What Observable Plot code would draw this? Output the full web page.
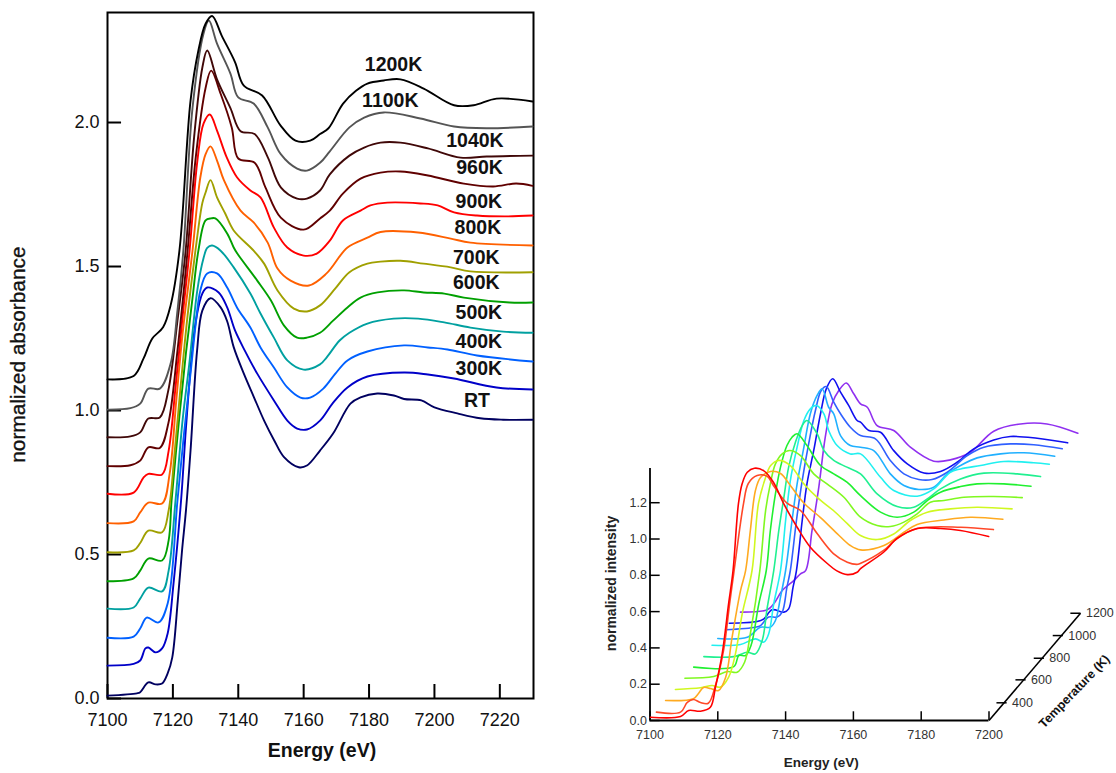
<!DOCTYPE html>
<html>
<head>
<meta charset="utf-8">
<script src="https://cdn.jsdelivr.net/npm/d3@7"></script>
<script src="https://cdn.jsdelivr.net/npm/@observablehq/plot@0.6"></script>
<style>
html,body{margin:0;padding:0;background:#fff}
#wrap{position:relative;width:1116px;height:773px;overflow:hidden}
#wrap svg{position:absolute;top:0;max-width:none}
</style>
</head>
<body>
<div id="wrap"></div>
<script>
// ---------- Left panel: [energy eV, normalized absorbance] ----------
const s1200K=[[7100,1.108],[7108,1.12],[7111,1.18],[7113.7,1.25],[7117,1.289],[7119.3,1.365],[7122,1.555],[7125.4,2.076],[7127.8,2.25],[7130,2.343],[7132,2.37],[7135,2.30],[7139,2.21],[7141.7,2.128],[7147.3,2.094],[7152.9,1.99],[7157.5,1.937],[7162,1.937],[7165,1.96],[7167.6,1.98],[7172,2.065],[7176,2.11],[7179.5,2.135],[7184.5,2.146],[7189.6,2.15],[7196.7,2.118],[7206,2.06],[7212,2.06],[7219,2.083],[7230,2.073]];
const s1100K=[[7100,1.003],[7107,1.008],[7110,1.024],[7112.5,1.076],[7116,1.076],[7119.3,1.163],[7121.4,1.347],[7123.2,1.555],[7126,2.05],[7129.4,2.31],[7131,2.354],[7133.5,2.274],[7137.6,2.17],[7140,2.087],[7144.7,2.066],[7149,1.983],[7153,1.89],[7158,1.84],[7161,1.833],[7165,1.86],[7168,1.90],[7174,1.983],[7178.5,2.017],[7184.5,2.035],[7195.7,2.014],[7206,1.986],[7216,1.98],[7230,1.986]];
const s1040K=[[7100,.907],[7107,.91],[7110,.924],[7112.5,.972],[7116,.976],[7118.6,1.07],[7121.4,1.312],[7123.9,1.555],[7126.5,1.95],[7129,2.19],[7130.5,2.25],[7133.5,2.15],[7137.6,2.05],[7140.7,1.97],[7145,1.96],[7149,1.88],[7153,1.775],[7158,1.736],[7161,1.736],[7165,1.764],[7168,1.82],[7174,1.885],[7178.5,1.913],[7183.5,1.93],[7189.6,1.93],[7198,1.91],[7208,1.878],[7216,1.882],[7230,1.885]];
const s960K=[[7100,.807],[7107,.81],[7110,.826],[7112.5,.872],[7116,.87],[7118.6,.955],[7121.4,1.208],[7124.5,1.555],[7127,1.88],[7130,2.12],[7131.7,2.18],[7134.6,2.10],[7138,1.983],[7140,1.875],[7145,1.86],[7148.3,1.775],[7153,1.67],[7160,1.628],[7165,1.667],[7168,1.694],[7172,1.753],[7177.4,1.805],[7183.5,1.826],[7189.6,1.83],[7198,1.816],[7209,1.788],[7218,1.778],[7225,1.788],[7230,1.78]];
const s900K=[[7100,.711],[7108,.715],[7111,.767],[7112.5,.78],[7116.7,.778],[7118.7,.86],[7120.8,1.08],[7123,1.33],[7125.1,1.555],[7127.5,1.868],[7129.4,1.997],[7131.3,2.028],[7133.5,1.972],[7136.5,1.878],[7139.6,1.81],[7143.7,1.764],[7146.8,1.74],[7150.9,1.635],[7155,1.566],[7160,1.538],[7164,1.545],[7168,1.59],[7172,1.66],[7177.4,1.694],[7180.4,1.712],[7185.6,1.722],[7195.7,1.719],[7201,1.712],[7206,1.688],[7213,1.677],[7222,1.674],[7230,1.677]];
const s800K=[[7100,.609],[7108,.615],[7110,.646],[7112.5,.68],[7116.7,.677],[7119,.78],[7121,1.03],[7123,1.27],[7126,1.555],[7128.4,1.81],[7130,1.89],[7131.5,1.917],[7133.5,1.868],[7135.6,1.8],[7140.7,1.694],[7144.7,1.653],[7149,1.583],[7152,1.493],[7156,1.451],[7161.6,1.434],[7167,1.476],[7173.4,1.566],[7179.5,1.60],[7183.5,1.62],[7195,1.618],[7205,1.597],[7211,1.583],[7230,1.573]];
const s700K=[[7100,.508],[7108,.514],[7110,.54],[7112.5,.583],[7116.7,.577],[7118.7,.653],[7120.5,.85],[7122.5,1.1],[7124.5,1.33],[7126.9,1.555],[7129,1.72],[7130,1.757],[7131.5,1.80],[7133.5,1.74],[7136,1.684],[7138.6,1.625],[7144.7,1.555],[7147.9,1.51],[7152,1.417],[7157,1.354],[7161,1.344],[7165,1.365],[7169.7,1.424],[7174,1.48],[7179.5,1.51],[7183.5,1.517],[7189.6,1.52],[7196.7,1.51],[7205,1.497],[7211,1.483],[7230,1.48]];
const s600K=[[7100,.407],[7108,.417],[7110,.444],[7112.5,.486],[7116.7,.479],[7118.7,.549],[7119.6,.6875],[7122,.98],[7124,1.2],[7126,1.39],[7127.8,1.555],[7130,1.66],[7131.7,1.667],[7133,1.667],[7136.6,1.615],[7138.6,1.566],[7139.7,1.545],[7145.8,1.451],[7150,1.382],[7154,1.295],[7158,1.253],[7161,1.253],[7165,1.27],[7169,1.312],[7173.4,1.358],[7177.4,1.392],[7182.6,1.41],[7190.7,1.417],[7196.7,1.41],[7203,1.406],[7209,1.392],[7223,1.375],[7230,1.375]];
const s500K=[[7100,.312],[7108,.316],[7110,.347],[7112.5,.385],[7116.7,.372],[7118.7,.444],[7120.8,.6875],[7123,.97],[7125,1.16],[7127.5,1.42],[7129.4,1.53],[7130.5,1.565],[7132,1.573],[7134.6,1.555],[7138.6,1.497],[7143.7,1.406],[7146.8,1.337],[7150.9,1.253],[7155,1.174],[7160,1.142],[7165,1.16],[7167,1.184],[7171,1.243],[7174,1.27],[7179.5,1.302],[7187.5,1.319],[7195,1.319],[7203,1.306],[7211,1.288],[7221,1.274],[7230,1.27]];
const s400K=[[7100,.211],[7108,.215],[7110,.243],[7112,.281],[7115.6,.264],[7118.4,.33],[7121.4,.6875],[7123.5,.93],[7125.5,1.14],[7127,1.302],[7128.4,1.417],[7130.5,1.476],[7133.5,1.476],[7136.6,1.427],[7139.6,1.358],[7143.7,1.288],[7146.8,1.219],[7150.9,1.149],[7155,1.08],[7159,1.045],[7162,1.045],[7166,1.076],[7169.7,1.128],[7173.4,1.174],[7179.5,1.205],[7190.7,1.226],[7198,1.219],[7204,1.212],[7213,1.191],[7230,1.17]];
const s300K=[[7100,.114],[7108,.12],[7110,.132],[7111.6,.174],[7112.5,.177],[7114.7,.16],[7116.7,.174],[7118.4,.226],[7120.2,.4],[7122.5,.6875],[7124,.94],[7125.9,1.208],[7127.2,1.323],[7129,1.406],[7130.5,1.427],[7134,1.41],[7136.6,1.358],[7139,1.278],[7142,1.208],[7145.8,1.128],[7150.9,1.035],[7155,.965],[7158,.9375],[7161,.934],[7165,.965],[7168.8,1.024],[7173.4,1.08],[7179.5,1.118],[7190.7,1.132],[7198,1.125],[7206,1.111],[7219,1.08],[7230,1.073]];
const sRT=[[7100,.01],[7109,.018],[7110,.022],[7112.5,.056],[7114.7,.049],[7116.7,.052],[7118.4,.087],[7119.8,.142],[7121.5,.34],[7122.8,.514],[7124,.653],[7125.4,.861],[7127.4,1.208],[7129,1.347],[7131.5,1.39],[7134.6,1.358],[7136.6,1.31],[7138.6,1.22],[7141.7,1.128],[7144.8,1.046],[7147.9,.965],[7151,.896],[7154,.838],[7158.5,.803],[7161,.809],[7165,.861],[7169,.92],[7174.3,1.024],[7177.4,1.046],[7182.5,1.059],[7187.6,1.052],[7190.7,1.04],[7196,1.035],[7200,1.011],[7207,.99],[7214,.973],[7221,.968],[7230,.968]];

const leftSeries=[sRT,s300K,s400K,s500K,s600K,s700K,s800K,s900K,s960K,s1040K,s1100K,s1200K];
const leftColors=["#000060","#0000c8","#0060ff","#00a0a0","#00a000","#a0a000","#ff6000","#ff0000","#600000","#400808","#555555","#000000"];
const leftLabels=["RT","300K","400K","500K","600K","700K","800K","900K","960K","1040K","1100K","1200K"];
const leftLabelE=[7213,7213.6,7213.6,7213.6,7212.8,7212.8,7213.3,7213.6,7213.8,7212.4,7186.5,7187.5];
const leftLabelV=[1.035,1.146,1.24,1.34,1.444,1.531,1.635,1.726,1.844,1.9375,2.076,2.201];
const leftXTicks=[7100,7120,7140,7160,7180,7200,7220];
const leftYTicks=[0,.5,1,1.5,2];

// ---------- Right panel: [projected energy eV, intensity] ----------
const c1=[[7100.1,.018],[7109,.022],[7111.4,.055],[7114.9,.051],[7117.8,.073],[7119.3,.183],[7121.3,.369],[7123.2,.645],[7124.5,.826],[7126.1,1.196],[7127.2,1.306],[7128.7,1.368],[7130.8,1.39],[7133.5,1.377],[7136.4,1.313],[7139.4,1.196],[7143.4,1.065],[7147.3,.955],[7152.3,.865],[7155,.826],[7158.2,.804],[7161.1,.817],[7162.1,.837],[7168.9,.927],[7172.9,1.003],[7178.8,1.058],[7185.7,1.058],[7191.6,1.047],[7199.9,1.014]];
const c2=[[7101.9,.046],[7109,.046],[7111,.10],[7112.8,.116],[7114.9,.099],[7117.2,.095],[7119.3,.193],[7121.7,.386],[7123.5,.645],[7124.7,.81],[7127.6,1.196],[7129,1.306],[7131.6,1.35],[7134.6,1.345],[7136.4,1.295],[7140.5,1.196],[7144.4,1.157],[7149.3,1.03],[7154.1,.92],[7158.2,.872],[7161,.86],[7162,.865],[7168.9,.937],[7172.9,1.003],[7178.8,1.058],[7191.6,1.065],[7201.3,1.052]];
const c3=[[7104.6,.11],[7112.8,.12],[7114.3,.149],[7115.8,.182],[7117.8,.176],[7120.2,.165],[7122.3,.237],[7124.2,.457],[7126.7,.716],[7128.2,.826],[7129.6,1.047],[7131.1,1.267],[7132.6,1.339],[7135.5,1.372],[7138.5,1.361],[7141.4,1.295],[7145.3,1.2],[7150.3,1.118],[7155.2,1.03],[7159.1,.964],[7162.1,.94],[7169,.964],[7174.9,1.037],[7178.8,1.08],[7186.7,1.105],[7194.5,1.12],[7204.1,1.109]];
const c4=[[7107.5,.171],[7114.9,.18],[7118.3,.193],[7120.8,.184],[7123.2,.239],[7125.2,.367],[7127.2,.588],[7130.1,.8265],[7132,1.196],[7134.1,1.339],[7135.6,1.405],[7137.9,1.433],[7141.4,1.405],[7145.3,1.306],[7149.3,1.229],[7154.1,1.157],[7158.2,1.085],[7162.1,1.019],[7167,.997],[7171.9,1.028],[7176.8,1.102],[7181.8,1.148],[7188.6,1.166],[7196.5,1.175],[7206.8,1.166]];
const c5=[[7110.3,.233],[7118.8,.242],[7122.8,.27],[7125.7,.266],[7127.9,.321],[7129.6,.478],[7132.4,.8265],[7134.1,1.157],[7135.5,1.304],[7137,1.414],[7139,1.469],[7141.2,1.488],[7144.4,1.46],[7148.3,1.359],[7152.2,1.304],[7157.2,1.23],[7162.1,1.12],[7167,1.074],[7170.9,1.069],[7174.9,1.093],[7178.8,1.138],[7182.7,1.203],[7186.7,1.212],[7192.6,1.23],[7201.4,1.234],[7209.8,1.228]];
const c6=[[7112.9,.294],[7124.7,.297],[7126.2,.358],[7128.2,.358],[7129.8,.413],[7132.1,.643],[7134.3,.8265],[7135.5,1.047],[7137,1.249],[7138.5,1.396],[7140.4,1.515],[7141.9,1.561],[7143.4,1.58],[7146.3,1.515],[7150.3,1.405],[7154.2,1.359],[7158.1,1.313],[7162.1,1.239],[7168,1.148],[7172.9,1.12],[7177.8,1.148],[7181.8,1.212],[7185.7,1.258],[7191.6,1.289],[7196.5,1.304],[7204.4,1.304],[7212.4,1.291]];
const c7=[[7115.9,.352],[7124.7,.352],[7128.7,.376],[7131.1,.367],[7133.1,.441],[7134.6,.624],[7136.5,.826],[7138,1.047],[7139.5,1.23],[7140.9,1.396],[7142.9,1.533],[7144.9,1.625],[7146.3,1.653],[7149.3,1.58],[7151.3,1.488],[7154.2,1.433],[7158.1,1.396],[7162.1,1.359],[7167,1.249],[7172.9,1.179],[7177.8,1.175],[7181.8,1.221],[7185.7,1.276],[7191.6,1.331],[7198.5,1.363],[7208.3,1.359],[7215.2,1.344]];
const c8=[[7118.3,.415],[7126.7,.419],[7131.1,.45],[7133.6,.432],[7135,.477],[7136.5,.643],[7138.5,.8265],[7140,1.102],[7141.4,1.322],[7143.4,1.506],[7145.4,1.653],[7147.3,1.717],[7149.1,1.736],[7151.3,1.69],[7152.7,1.598],[7155.2,1.515],[7159.1,1.469],[7162.1,1.469],[7168,1.34],[7171.9,1.267],[7178.8,1.236],[7183.7,1.276],[7188.6,1.368],[7191.6,1.386],[7197.5,1.405],[7204.4,1.427],[7213.2,1.42],[7217.8,1.412]];
const c9=[[7120,.452],[7128.7,.459],[7132.6,.514],[7135.5,.514],[7137,.551],[7138.5,.68],[7140,.8265],[7141.9,1.102],[7143.4,1.304],[7145.4,1.506],[7147.3,1.69],[7149.3,1.791],[7150.8,1.827],[7152.7,1.726],[7154.2,1.69],[7156.2,1.57],[7159.1,1.515],[7162.1,1.506],[7166,1.487],[7170.9,1.359],[7174.9,1.295],[7179.3,1.273],[7183.7,1.285],[7187.7,1.359],[7191.6,1.405],[7196.5,1.447],[7203.4,1.469],[7210.3,1.475],[7219.4,1.456]];
const c10=[[7122.3,.5],[7131.1,.514],[7132.6,.523],[7135,.57],[7137.5,.57],[7139,.597],[7140.4,.735],[7141.4,.8265],[7143.2,1.102],[7144.9,1.322],[7146.8,1.524],[7148.8,1.708],[7150.5,1.818],[7152,1.84],[7154.2,1.754],[7156.2,1.69],[7159.1,1.616],[7162.1,1.57],[7166.5,1.552],[7170.9,1.432],[7174.9,1.359],[7179.3,1.328],[7183.2,1.328],[7187.7,1.368],[7193.6,1.46],[7198.5,1.506],[7206.3,1.524],[7213.2,1.519],[7221.6,1.497]];
const c11=[[7123.4,.536],[7131.6,.545],[7133.6,.56],[7136,.61],[7139.5,.597],[7140.9,.615],[7142.2,.735],[7143.2,.8265],[7144.9,1.102],[7146.3,1.304],[7148.3,1.488],[7150.3,1.69],[7152,1.827],[7153.9,1.883],[7156.2,1.809],[7158.6,1.736],[7161.1,1.653],[7162.1,1.644],[7164.6,1.598],[7168,1.588],[7171.9,1.487],[7175.9,1.414],[7180.8,1.364],[7185.7,1.372],[7190.6,1.423],[7195.5,1.497],[7201.4,1.546],[7206.3,1.565],[7214.2,1.555],[7223.2,1.53]];
const c12=[[7126.7,.597],[7134.6,.61],[7136.5,.643],[7139,.716],[7142.4,.771],[7144.4,.808],[7145.9,.826],[7147.8,1.047],[7149.8,1.286],[7151.7,1.561],[7153.7,1.745],[7155.7,1.818],[7157.9,1.86],[7160.1,1.80],[7162.1,1.745],[7164.1,1.726],[7167,1.625],[7171.9,1.598],[7176.8,1.506],[7183.7,1.429],[7188.6,1.436],[7194.5,1.478],[7201.4,1.594],[7209.3,1.634],[7217.1,1.634],[7226.2,1.583]];

const rightSeries=[c12,c11,c10,c9,c8,c7,c6,c5,c4,c3,c2,c1];
const rightColors=["#9030f0","#1010f0","#3060ff","#20b0ff","#20f0f0","#20f090","#20f030","#80f820","#d0f820","#ffaa20","#ff4828","#ff0000"];
const rightXTicks=[7100,7120,7140,7160,7180,7200];
const rightYTicks=[0,.2,.4,.6,.8,1,1.2];
const tempTicks=[400,600,800,1000,1200];
const tempE=[7205.2,7210.8,7216.2,7221.8,7227];
const tempI=[.0975,.224,.343,.468,.591];

const FONT="'Liberation Sans', Arial, sans-serif";
const wrap=document.getElementById("wrap");

const left=Plot.plot({
  width:560,height:773,
  marginLeft:107,marginRight:27,marginTop:12,marginBottom:75,
  style:{fontFamily:FONT,background:"transparent",left:"0px"},
  x:{domain:[7100,7230.3],label:null},
  y:{domain:[0,2.382],label:null},
  marks:[
    Plot.frame({stroke:"#000",strokeWidth:2}),
    Plot.axisX(leftXTicks,{tickSize:0,tickPadding:15,fontSize:18,tickFormat:d=>String(d),label:null,fill:"#111"}),
    Plot.axisY(leftYTicks,{tickSize:0,tickPadding:8,fontSize:18,tickFormat:d=>d.toFixed(1),label:null,fill:"#111"}),
    Plot.ruleX(leftXTicks,{y1:0,y2:.0486,stroke:"#000",strokeWidth:2}),
    Plot.ruleY(leftYTicks,{x1:7100,x2:7104.3,stroke:"#000",strokeWidth:2}),
    ...leftSeries.map((s,i)=>Plot.line(s,{x:d=>d[0],y:d=>d[1],stroke:leftColors[i],strokeWidth:1.9,curve:"catmull-rom"})),
    Plot.text(leftLabels,{x:(d,i)=>leftLabelE[i],y:(d,i)=>leftLabelV[i],text:d=>d,fontSize:19.5,fontWeight:"bold",fill:"#111",textAnchor:"middle"}),
    Plot.text(["Energy (eV)"],{x:[7165.6],y:[-.18],text:d=>d,fontSize:19.5,fontWeight:"bold",fill:"#111"}),
    Plot.text(["normalized absorbance"],{x:[7072.8],y:[1.194],text:d=>d,fontSize:20.8,fill:"#111",stroke:"#111",strokeWidth:.35,rotate:-90})
  ]
});
left.style.position="absolute";left.style.left="0px";
wrap.appendChild(left);

const right=Plot.plot({
  width:556,height:773,
  marginLeft:89.5,marginRight:25.8,marginTop:366.1,marginBottom:53,
  style:{fontFamily:FONT,background:"transparent"},
  x:{domain:[7100,7230],label:null},
  y:{domain:[0,1.95],label:null},
  marks:[
    Plot.ruleX([7100],{y1:0,y2:1.388,stroke:"#000",strokeWidth:1.8}),
    Plot.ruleY([0],{x1:7100,x2:7200,stroke:"#000",strokeWidth:1.8}),
    Plot.axisX(rightXTicks,{tickSize:0,tickPadding:10,fontSize:12.5,tickFormat:d=>String(d),label:null,fill:"#333"}),
    Plot.axisY(rightYTicks,{tickSize:0,tickPadding:3,fontSize:12.5,tickFormat:d=>d.toFixed(1),label:null,fill:"#333"}),
    Plot.ruleX(rightXTicks,{y1:0,y2:.048,stroke:"#000",strokeWidth:1.5}),
    Plot.ruleY(rightYTicks,{x1:7100,x2:7103,stroke:"#000",strokeWidth:1.5}),
    Plot.link([0],{x1:[7200],y1:[0],x2:[tempE[4]],y2:[tempI[4]],stroke:"#000",strokeWidth:1.6}),
    Plot.link(tempTicks,{x1:(d,i)=>tempE[i]-3,y1:(d,i)=>tempI[i],x2:(d,i)=>tempE[i],y2:(d,i)=>tempI[i],stroke:"#000",strokeWidth:1.5}),
    Plot.text(tempTicks,{x:(d,i)=>tempE[i]+1.6,y:(d,i)=>tempI[i],text:d=>String(d),textAnchor:"start",fontSize:12.5,fill:"#333"}),
    ...rightSeries.map((s,i)=>Plot.line(s,{x:d=>d[0],y:d=>d[1],stroke:rightColors[i],strokeWidth:1.6,curve:"catmull-rom"})),
    Plot.text(["Energy (eV)"],{x:[7150.5],y:[-.231],text:d=>d,fontSize:13.5,fontWeight:"bold",fill:"#222"}),
    Plot.text(["normalized intensity"],{x:[7088.6],y:[.755],text:d=>d,fontSize:14,fontWeight:"bold",fill:"#222",rotate:-90}),
    Plot.text(["Temperature (K)"],{x:[7225.2],y:[.16],text:d=>d,fontSize:12.5,fontWeight:"bold",fill:"#111",rotate:-46})
  ]
});
right.style.position="absolute";right.style.left="560px";
wrap.appendChild(right);
</script>
</body>
</html>
